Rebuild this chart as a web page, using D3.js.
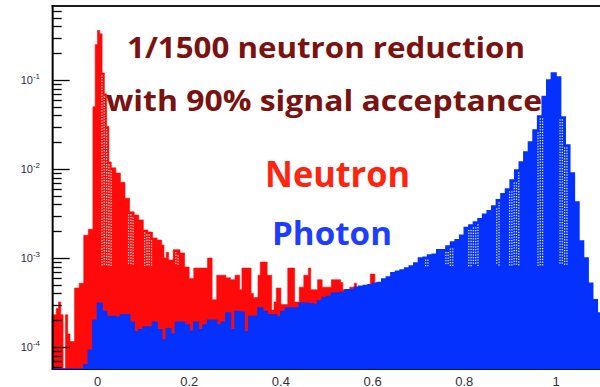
<!DOCTYPE html>
<html>
<head>
<meta charset="utf-8">
<script src="https://cdn.jsdelivr.net/npm/d3@7"></script>
<style>
  html, body { margin: 0; padding: 0; background: #fff; }
  svg { display: block; }
</style>
</head>
<body>
<svg id="chart" width="600" height="387"></svg>
<script>
// ---- histogram range and binning ----
const xRange = [-0.1, 1.1];
const neutronBinWidth = 0.005;
const photonBinWidth = 0.01;

// Neutron histogram contents, 240 bins of 0.005 from -0.1 (one row per 0.1)
const neutron = [
  2.3e-4, 2.3e-4, 2.7e-4, 3.2e-4, 2.3e-4, 0, 2.3e-4, 1.4e-4, 1.15e-4, 1.15e-4,
  4.6e-4, 4.6e-4, 5.2e-4, 5.2e-4, 1.8e-3, 1.8e-3, 2.1e-3, 2.1e-3, 0.05, 0.25,
  0.36, 0.33, 0.12, 0.07, 0.03, 0.012, 0.0103, 0.0103, 9.0e-3, 9.0e-3,
  7.1e-3, 7.1e-3, 4.7e-3, 4.7e-3, 3.3e-3, 3.3e-3, 3.04e-3, 3.04e-3, 2.68e-3, 2.68e-3,
  2.06e-3, 2.06e-3, 1.96e-3, 1.96e-3, 1.68e-3, 1.68e-3, 1.59e-3, 1.59e-3, 1.4e-3, 1.0e-3,
  1.16e-3, 9.5e-4, 9.5e-4, 1.24e-3, 1.24e-3, 1.24e-3, 1.14e-3, 1.14e-3, 7.9e-4, 7.9e-4,
  5.9e-4, 5.9e-4, 7.7e-4, 7.7e-4, 7.7e-4, 7.7e-4, 7.7e-4, 7.7e-4, 1.0e-3, 1.0e-3,
  3.4e-4, 3.4e-4, 6.4e-4, 6.4e-4, 6.4e-4, 6.4e-4, 6.0e-4, 6.0e-4, 5.7e-4, 5.7e-4,
  6.4e-4, 6.4e-4, 4.4e-4, 7.7e-4, 7.7e-4, 7.7e-4, 7.7e-4, 4.0e-4, 3.6e-4, 3.6e-4,
  6.4e-4, 9.0e-4, 9.0e-4, 9.0e-4, 6.4e-4, 6.4e-4, 2.6e-4, 3.2e-4, 4.6e-4, 4.6e-4,
  3.0e-4, 3.0e-4, 3.0e-4, 7.7e-4, 7.7e-4, 7.7e-4, 3.2e-4, 3.2e-4, 4.7e-4, 4.7e-4,
  6.4e-4, 6.4e-4, 7.7e-4, 4.4e-4, 4.4e-4, 4.4e-4, 5.7e-4, 5.7e-4, 4.7e-4, 4.7e-4,
  4.7e-4, 4.7e-4, 5.7e-4, 5.7e-4, 5.7e-4, 5.7e-4, 5.3e-4, 4.4e-4, 4.4e-4, 4.4e-4,
  4.7e-4, 4.7e-4, 5.2e-4, 4.7e-4, 3.9e-4, 3.9e-4, 4.4e-4, 4.4e-4, 5.0e-4, 6.6e-4,
  6.6e-4, 4.4e-4, 4.2e-4, 3.6e-4, 3.8e-4, 4.5e-4, 3.4e-4, 3.9e-4, 4.1e-4, 3.3e-4,
  3.7e-4, 4.3e-4, 3.5e-4, 3.2e-4, 4.0e-4, 3.6e-4, 3.3e-4, 3.9e-4, 3.6e-4, 3.1e-4,
  3.8e-4, 3.4e-4, 4.0e-4, 3.5e-4, 3.2e-4, 3.7e-4, 4.1e-4, 3.3e-4, 3.6e-4, 3.9e-4,
  3.4e-4, 3.0e-4, 3.7e-4, 4.2e-4, 3.5e-4, 3.1e-4, 3.8e-4, 3.3e-4, 3.6e-4, 3.4e-4,
  3.2e-4, 3.9e-4, 3.5e-4, 3.0e-4, 3.6e-4, 4.0e-4, 3.3e-4, 3.5e-4, 3.8e-4, 3.1e-4,
  3.4e-4, 3.7e-4, 3.2e-4, 3.5e-4, 3.9e-4, 3.3e-4, 3.6e-4, 3.0e-4, 3.4e-4, 3.7e-4,
  3.5e-4, 3.2e-4, 3.8e-4, 3.4e-4, 3.1e-4, 3.6e-4, 3.9e-4, 3.3e-4, 3.5e-4, 3.7e-4,
  3.2e-4, 3.4e-4, 3.8e-4, 3.1e-4, 3.6e-4, 3.3e-4, 3.5e-4, 3.9e-4, 3.4e-4, 3.2e-4,
  3.6e-4, 3.3e-4, 3.5e-4, 3.8e-4, 3.1e-4, 3.4e-4, 3.6e-4, 3.2e-4, 3.3e-4, 3.0e-4,
  3.4e-4, 3.1e-4, 3.2e-4, 2.9e-4, 3.0e-4, 2.7e-4, 2.6e-4, 2.4e-4, 1.8e-4, 1.6e-4
];

// Photon histogram contents, 120 bins of 0.01 from -0.1
const photon = [
  0, 0, 0, 0, 0, 0, 0, 6.3e-5, 9.2e-5, 2.0e-4,
  3.1e-4, 2.5e-4, 2.2e-4, 2.2e-4, 2.15e-4, 2.3e-4, 2.3e-4, 1.9e-4, 1.48e-4, 1.56e-4,
  1.68e-4, 1.68e-4, 1.9e-4, 1.56e-4, 1.2e-4, 1.6e-4, 1.4e-4, 1.9e-4, 1.9e-4, 1.77e-4,
  1.5e-4, 1.9e-4, 1.56e-4, 1.77e-4, 2.0e-4, 2.0e-4, 1.77e-4, 1.9e-4, 2.4e-4, 1.56e-4,
  2.5e-4, 2.45e-4, 1.48e-4, 2.2e-4, 2.2e-4, 2.74e-4, 2.5e-4, 2.3e-4, 2.3e-4, 2.2e-4,
  2.5e-4, 2.74e-4, 2.74e-4, 2.74e-4, 3.1e-4, 3.1e-4, 3.05e-4, 3.0e-4, 3.3e-4, 3.6e-4,
  3.7e-4, 4.0e-4, 4.05e-4, 4.1e-4, 4.4e-4, 4.4e-4, 4.7e-4, 4.8e-4, 4.9e-4, 5.0e-4,
  5.2e-4, 5.3e-4, 5.8e-4, 6.1e-4, 6.8e-4, 7.1e-4, 7.3e-4, 7.7e-4, 8.1e-4, 8.8e-4,
  1.0e-3, 1.02e-3, 1.08e-3, 1.1e-3, 1.24e-3, 1.24e-3, 1.36e-3, 1.51e-3, 1.6e-3, 1.8e-3,
  2.2e-3, 2.35e-3, 2.54e-3, 2.75e-3, 3.1e-3, 3.4e-3, 3.83e-3, 4.5e-3, 5.25e-3, 5.96e-3,
  7.5e-3, 9.75e-3, 0.012, 0.0155, 0.0201, 0.0274, 0.0394, 0.065, 0.1, 0.12,
  0.108, 0.0384, 0.0186, 9.0e-3, 4.26e-3, 1.55e-3, 1.0e-3, 5.2e-4, 3.4e-4, 2.4e-4
];

// Bands (in x units) where the dotted overlay shows through each histogram
const neutronDotBands = [[0.008, 0.031], [0.066, 0.081], [0.101, 0.122], [0.169, 0.18]];
const photonDotBands = [[0.714, 0.725], [0.758, 0.775], [0.808, 0.834], [0.869, 0.876],
                        [0.897, 0.921], [0.959, 0.972], [1.007, 1.024]];
const dotFloor = 8.2e-4;

// ---- axes ----
const yDomain = [5.66e-5, 0.678];
const xTicks = [0, 0.2, 0.4, 0.6, 0.8, 1];
const xTickLabels = ["0", "0.2", "0.4", "0.6", "0.8", "1"];
const yDecades = [1e-4, 1e-3, 1e-2, 1e-1];
const yDecadeExponents = ["-4", "-3", "-2", "-1"];

// ---- text ----
const titleLines = ["1/1500 neutron reduction", "with 90% signal acceptance"];
const seriesNames = ["Neutron", "Photon"];

// ---- drawing ----
const svg = d3.select("#chart");
const plot = { left: 51.65, right: 601.85, top: 6, bottom: 369 };

const x = d3.scaleLinear().domain(xRange).range([plot.left, plot.right]);
const y = d3.scaleLog().domain(yDomain).range([plot.bottom, plot.top]).clamp(true);
const yv = v => (v > 0 ? y(v) : plot.bottom);

svg.append("defs").append("clipPath").attr("id", "plotclip")
  .append("rect")
  .attr("x", plot.left).attr("y", plot.top)
  .attr("width", plot.right - plot.left).attr("height", plot.bottom - plot.top + 1.5);

const g = svg.append("g").attr("clip-path", "url(#plotclip)");

function histPath(values, w) {
  const p = d3.path();
  p.moveTo(x(xRange[0]), plot.bottom);
  values.forEach((v, i) => {
    const x0 = x(xRange[0] + i * w), x1 = x(xRange[0] + (i + 1) * w);
    p.lineTo(x0, yv(v));
    p.lineTo(x1, yv(v));
  });
  p.lineTo(x(xRange[0] + values.length * w), plot.bottom);
  p.closePath();
  return p.toString();
}

const red = "#ff0a0a", blue = "#0531ff";

g.append("path").attr("d", histPath(neutron, neutronBinWidth))
  .attr("fill", red).attr("stroke", red).attr("stroke-width", 0.6);
g.append("path").attr("d", histPath(photon, photonBinWidth))
  .attr("fill", blue).attr("stroke", blue).attr("stroke-width", 1.6);

// dotted white overlay columns
function valueAt(values, w, px) {
  const i = Math.floor((x.invert(px) - xRange[0]) / w);
  return values[Math.max(0, Math.min(values.length - 1, i))];
}
function drawDots(values, w, bands) {
  const floorY = y(dotFloor);
  bands.forEach(([a, b]) => {
    for (let px = x(a) + 0.8; px <= x(b); px += 2.3) {
      const top = Math.max(yv(valueAt(values, w, px)), yv(valueAt(values, w, px + 2.3)), yv(valueAt(values, w, px - 2.3))) + 3;
      for (let py = top; py < floorY; py += 2.7) {
        g.append("rect").attr("x", px - 0.6).attr("y", py - 0.6)
          .attr("width", 1.2).attr("height", 1.2).attr("fill", "#ffffff");
      }
    }
  });
}
drawDots(neutron, neutronBinWidth, neutronDotBands);
drawDots(photon, photonBinWidth, photonDotBands);

// frame: top edge, left axis, bottom axis
const axisX = plot.left + 1;
svg.append("line").attr("x1", plot.left).attr("x2", 600).attr("y1", plot.top).attr("y2", plot.top)
  .attr("stroke", "#1a1a1a").attr("stroke-width", 2);
svg.append("line").attr("x1", axisX).attr("x2", axisX).attr("y1", plot.top - 1).attr("y2", plot.bottom + 1)
  .attr("stroke", "#000").attr("stroke-width", 2);
svg.append("line").attr("x1", plot.left).attr("x2", 600).attr("y1", plot.bottom + 0.5).attr("y2", plot.bottom + 0.5)
  .attr("stroke", "#0c1450").attr("stroke-width", 1.2);

// log ticks on the y axis, drawn inward
const yTickVals = [];
for (let e = -5; e <= 0; e++) {
  for (let m = 1; m <= 9; m++) {
    const v = m * Math.pow(10, e);
    if (v >= yDomain[0] && v <= yDomain[1]) yTickVals.push({ v, major: m === 1 });
  }
}
svg.append("g").selectAll("line").data(yTickVals).join("line")
  .attr("x1", axisX).attr("x2", d => axisX + (d.major ? 17 : 9))
  .attr("y1", d => Math.round(y(d.v)) + 0.5).attr("y2", d => Math.round(y(d.v)) + 0.5)
  .attr("stroke", "#000").attr("stroke-width", 1.3);

// y labels 10^n
const yl = svg.append("g").attr("font-family", "'Liberation Sans', Arial, sans-serif")
  .attr("fill", "#2b2f52");
yDecades.forEach((v, i) => {
  const t = yl.append("text").attr("x", 40).attr("y", y(v) + 4.5).attr("text-anchor", "end")
    .attr("font-size", 11);
  t.append("tspan").text("10");
  t.append("tspan").attr("dy", -5).attr("font-size", 8).text(yDecadeExponents[i]);
});

// x labels
svg.append("g").attr("font-family", "'Liberation Sans', Arial, sans-serif")
  .attr("font-size", 13).attr("fill", "#2e2e3c")
  .selectAll("text").data(xTicks).join("text")
  .attr("x", d => x(d)).attr("y", 385.5).attr("text-anchor", "middle")
  .text((d, i) => xTickLabels[i]);

// title and series labels
const bold = { family: "'Open Sans', 'DejaVu Sans', sans-serif", weight: 700 };
function label(txt, px, py, size, len, color) {
  svg.append("text").attr("x", px).attr("y", py)
    .attr("font-family", bold.family).attr("font-weight", bold.weight)
    .attr("font-size", size).attr("fill", color)
    .attr("textLength", len).attr("lengthAdjust", "spacingAndGlyphs")
    .text(txt);
}
label(titleLines[0], 127, 58, 28, 398, "#7a1212");
label(titleLines[1], 106, 111, 28, 436, "#7a1212");
label(seriesNames[0], 265, 187, 35, 145, "#ff2410");
label(seriesNames[1], 272, 245, 33, 120, "#1f3dff");
</script>
</body>
</html>
